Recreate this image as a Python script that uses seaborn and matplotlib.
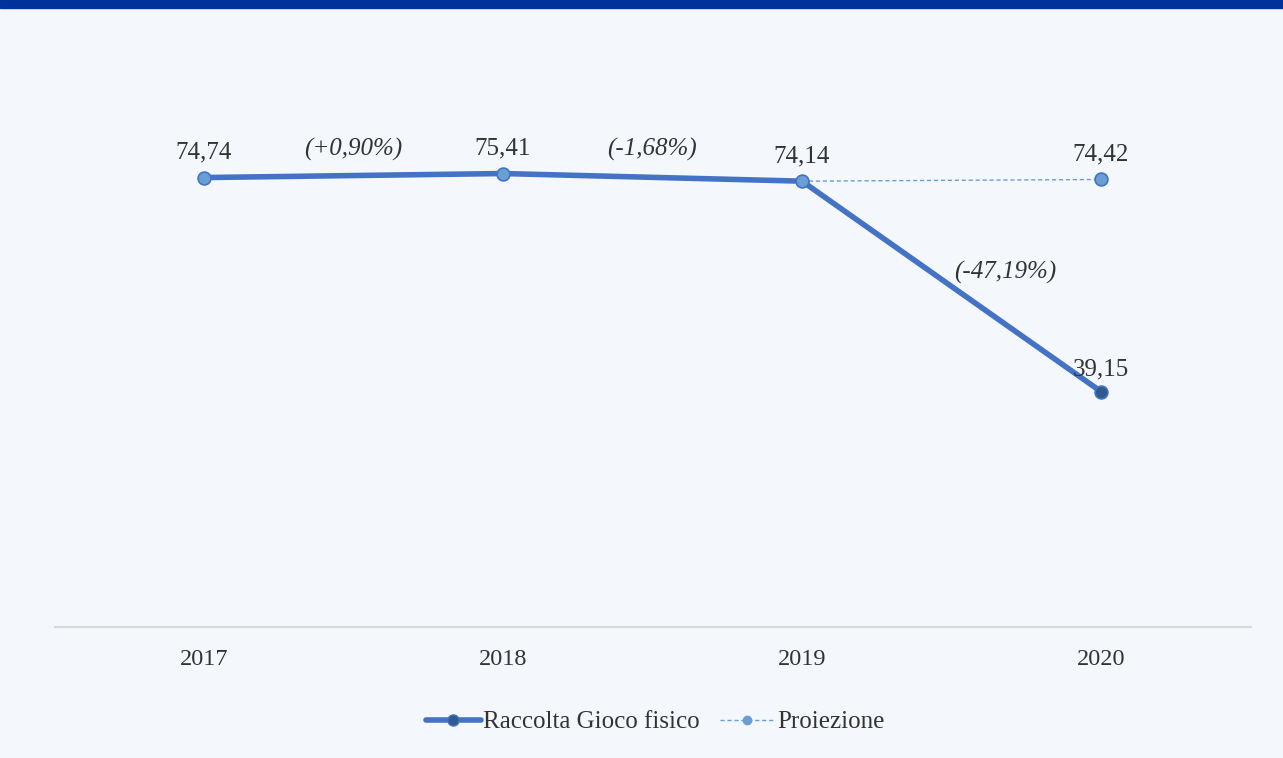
import numpy as np
import pandas as pd
import matplotlib
matplotlib.use("Agg")
import matplotlib.pyplot as plt
from matplotlib.lines import Line2D
from matplotlib.patches import Rectangle
import seaborn as sns

# data
years = ["2017", "2018", "2019", "2020"]
raccolta = [74.74, 75.41, 74.14, 39.15]
proiezione = [74.74, 75.41, 74.14, 74.42]
variazioni = ["(+0,90%)", "(-1,68%)", "(-47,19%)"]

bg = "#f4f8fc"
main_col = "#4472c4"
proj_col = "#6a9fd3"
dark_col = "#2f5a8f"
text_col = "#333333"

sns.set_theme(style="white")
plt.rcParams["font.family"] = ["Liberation Serif", "DejaVu Serif"]

fig = plt.figure(figsize=(12.83, 7.58), dpi=100, facecolor=bg)
ax = fig.add_axes([54.5 / 1283, 1 - 627 / 758, 1196 / 1283, (627 - 85.8) / 758])
ax.set_facecolor(bg)

df = pd.DataFrame({"anno": years, "raccolta": raccolta, "proiezione": proiezione})
x = np.arange(len(years))
df["x"] = x

# projection line only from 2019 onward
sns.lineplot(data=df.iloc[2:], x="x", y="proiezione", ax=ax, color=proj_col,
             linewidth=1, linestyle=(0, (3, 2)), zorder=2)
sns.lineplot(data=df, x="x", y="raccolta", ax=ax, color=main_col,
             linewidth=4, zorder=3)
ax.scatter(x[-1], raccolta[-1], s=85, color=dark_col, edgecolor=main_col,
           linewidth=1.2, zorder=4)
ax.scatter(x, proiezione, s=85, color=proj_col, edgecolor=main_col,
           linewidth=1.2, zorder=5)

# value labels
for i, v in enumerate(raccolta[:3]):
    ax.annotate(f"{v:.2f}".replace(".", ","), (x[i], v), xytext=(0, 10),
                textcoords="offset points", ha="center", va="bottom",
                fontsize=18, color=text_col)
ax.annotate(f"{proiezione[3]:.2f}".replace(".", ","), (x[3], proiezione[3]),
            xytext=(0, 10), textcoords="offset points", ha="center",
            va="bottom", fontsize=18, color=text_col)
ax.annotate(f"{raccolta[3]:.2f}".replace(".", ","), (x[3], raccolta[3]),
            xytext=(0, 8), textcoords="offset points", ha="center",
            va="bottom", fontsize=18, color=text_col)

# variations between years
for i, lab in enumerate(variazioni):
    if i < 2:
        ym = max(raccolta[i], raccolta[i + 1])
        ax.annotate(lab, (i + 0.5, ym), xytext=(0, 9), textcoords="offset points",
                    ha="center", va="bottom", fontsize=18, style="italic",
                    color=text_col)
    else:
        ax.text(i + 0.68, (raccolta[i] + raccolta[i + 1]) / 2 + 2.3, lab,
                ha="center", va="center", fontsize=18, style="italic",
                color=text_col)

ax.set_xlim(-0.5, 3.5)
ax.set_ylim(0, 90)
ax.set_xticks(x)
ax.set_xticklabels(years, fontsize=17.5, color=text_col)
ax.tick_params(axis="x", length=0, pad=16)
ax.set_yticks([])
ax.set_xlabel("")
ax.set_ylabel("")
for s in ["top", "right", "left"]:
    ax.spines[s].set_visible(False)
ax.spines["bottom"].set_color("#d9d9d9")
ax.spines["bottom"].set_linewidth(1.6)

handles = [
    Line2D([0], [0], color=main_col, linewidth=4, marker="o", markersize=8,
           markerfacecolor=dark_col, markeredgecolor=main_col),
    Line2D([0], [0], color=proj_col, linewidth=1, linestyle=(0, (3, 2)),
           marker="o", markersize=6, markerfacecolor=proj_col,
           markeredgecolor=proj_col),
]
fig.legend(handles, ["Raccolta Gioco fisico", "Proiezione"], loc="center",
           bbox_to_anchor=(655 / 1283, 1 - 722 / 758), ncol=2, frameon=False,
           fontsize=18, handlelength=2.2, handletextpad=0.1, columnspacing=0.8,
           labelcolor=text_col)

# top band
fig.patches.append(Rectangle((0, 1 - 8 / 758), 1, 8 / 758, transform=fig.transFigure,
                             color="#003399", zorder=10))

fig.savefig("out.png", dpi=100, facecolor=bg)
